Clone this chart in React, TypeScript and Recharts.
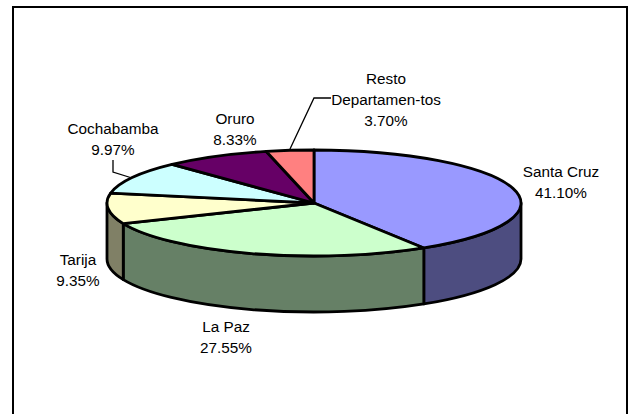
import React from 'react';
import { PieChart, Pie } from 'recharts';

const names = ['Santa Cruz', 'La Paz', 'Tarija', 'Cochabamba', 'Oruro', 'Resto Departamen-tos'];
const shares = [41.1, 27.55, 9.35, 9.97, 8.33, 3.7];
const topColors = ['#9999FF', '#CCFFCC', '#FFFFCC', '#CCFFFF', '#660066', '#FF8080'];
const wallColors = ['#4D4D80', '#668066', '#808066', '#668080', '#330033', '#804040'];

const tableData = names.map((name, i) => ({ name, value: shares[i], top: topColors[i], wall: wallColors[i] }));

const W = 631;
const H = 414;
const CX = 314;
const CY = 203;
const RX = 207;
const RY = 53;
const DEPTH = 56;
const SW = 2.8;
const FONT = 15.3;
const LINE = 21;

const labelLayout: Record<string, { x: number; y: number; lines: string[]; leader?: string }> = {
  'Santa Cruz': { x: 561, y: 171, lines: ['Santa Cruz'] },
  'La Paz': { x: 226, y: 326, lines: ['La Paz'] },
  Tarija: { x: 78, y: 259, lines: ['Tarija'] },
  Cochabamba: { x: 113, y: 128, lines: ['Cochabamba'], leader: 'M113 160 L113 172 L132 178' },
  Oruro: { x: 235, y: 118, lines: ['Oruro'] },
  'Resto Departamen-tos': {
    x: 386,
    y: 78,
    lines: ['Resto', 'Departamen-tos'],
    leader: 'M290 149 L314 98 L331 98',
  },
};

const px = (a: number, cx: number) => cx + RX * Math.cos((a * Math.PI) / 180);
const py = (a: number, cy: number) => cy - RY * Math.sin((a * Math.PI) / 180);

const TopShape = (p: any) => {
  const { cx, cy, startAngle, endAngle, payload } = p;
  const large = Math.abs(startAngle - endAngle) > 180 ? 1 : 0;
  const d = `M${cx} ${cy} L${px(startAngle, cx)} ${py(startAngle, cy)} A${RX} ${RY} 0 ${large} 1 ${px(endAngle, cx)} ${py(endAngle, cy)} Z`;
  return <path d={d} fill={payload.top} stroke="#000" strokeWidth={SW} strokeLinejoin="round" />;
};

const WallShape = (p: any) => {
  const { cx, cy, startAngle, endAngle, payload } = p;
  const a = Math.min(startAngle, 0);
  const b = Math.max(endAngle, -180);
  if (a <= b) return <g />;
  const d =
    `M${px(a, cx)} ${py(a, cy)} A${RX} ${RY} 0 0 1 ${px(b, cx)} ${py(b, cy)} ` +
    `L${px(b, cx)} ${py(b, cy) + DEPTH} A${RX} ${RY} 0 0 0 ${px(a, cx)} ${py(a, cy) + DEPTH} Z`;
  return <path d={d} fill={payload.wall} stroke="#000" strokeWidth={SW} strokeLinejoin="round" />;
};

const renderLabel = (p: any) => {
  const l = labelLayout[p.name];
  const rows = [...l.lines, `${p.value.toFixed(2)}%`];
  return (
    <g key={p.name}>
      {l.leader && <path d={l.leader} fill="none" stroke="#000" strokeWidth={1.3} />}
      {rows.map((r, i) => (
        <text
          key={r}
          x={l.x}
          y={l.y + i * LINE}
          textAnchor="middle"
          dominantBaseline="central"
          fontFamily="'Liberation Sans', Arial, sans-serif"
          fontSize={FONT}
          fill="#000"
        >
          {r}
        </text>
      ))}
    </g>
  );
};

export default function App() {
  return (
    <div style={{ position: 'absolute', left: 0, top: 0, width: W, height: H, overflow: 'hidden', background: '#fff' }}>
      <div
        style={{
          position: 'absolute',
          left: 12,
          top: 6,
          width: 616,
          height: 430,
          border: '2px solid #000',
          boxSizing: 'border-box',
        }}
      />
      <div style={{ position: 'absolute', left: 0, top: 0 }}>
        <PieChart width={W} height={H} margin={{ top: 0, right: 0, bottom: 0, left: 0 }}>
          <Pie
            data={tableData}
            dataKey="value"
            nameKey="name"
            cx={CX}
            cy={CY}
            outerRadius={RX}
            startAngle={90}
            endAngle={-270}
            paddingAngle={0}
            shape={WallShape}
            isAnimationActive={false}
            legendType="none"
          />
          <Pie
            data={tableData}
            dataKey="value"
            nameKey="name"
            cx={CX}
            cy={CY}
            outerRadius={RX}
            startAngle={90}
            endAngle={-270}
            paddingAngle={0}
            shape={TopShape}
            label={renderLabel}
            labelLine={false}
            isAnimationActive={false}
            legendType="none"
          />
        </PieChart>
      </div>
    </div>
  );
}
